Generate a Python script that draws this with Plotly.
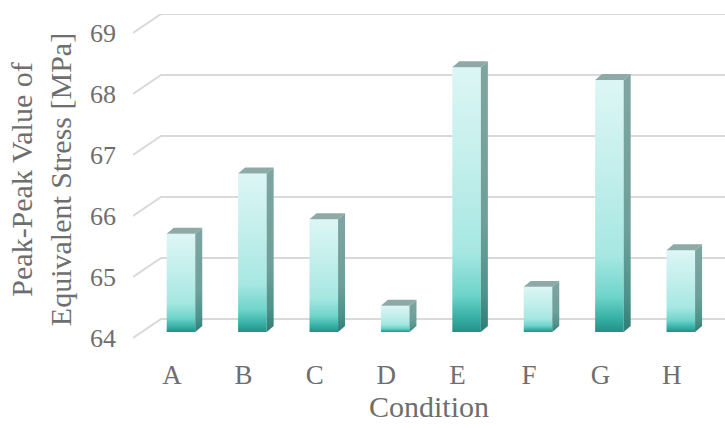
import plotly.graph_objects as go

# Data
categories = ["A", "B", "C", "D", "E", "F", "G", "H"]
stress_pp = [65.61, 66.60, 65.85, 64.43, 68.34, 64.74, 68.13, 65.34]
y_ticks = [64, 65, 66, 67, 68, 69]

# Projection constants (axis units) for the pseudo-3D look
X_MIN, X_MAX = -0.546, 7.745
Y_MIN, Y_MAX = 63.885, 69.311
BASE = y_ticks[0]
BAR_W = 0.40
SHIFT_X, SHIFT_Y = 0.126, 0.098     # bar front face relative to the front plane
DEPTH_X, DEPTH_Y = 0.098, 0.098     # bar depth
WALL_X, WALL_Y = 0.392, 0.311       # back wall offset

TEXT = "#6e6e6e"
GRID = "#d9d9d9"
FONT = "Liberation Serif"

front_scale = [
    [0.0, "#248f86"],
    [0.05, "#34aea3"],
    [0.14, "#6ed4ca"],
    [0.30, "#a6e7e2"],
    [0.65, "#c4efec"],
    [1.0, "#dcf6f5"],
]
side_scale = [
    [0.0, "#2d7d76"],
    [0.15, "#4f938c"],
    [0.4, "#6e9f9a"],
    [1.0, "#7fa5a2"],
]

fig = go.Figure()

# Back wall gridlines with the receding diagonal at the left
shapes = []
for t in y_ticks:
    pts = [(X_MIN, t), (X_MIN + WALL_X, t + WALL_Y), (X_MAX, t + WALL_Y)]
    path = "M {} {} L {} {} L {} {}".format(*[c for p in pts for c in p])
    shapes.append(dict(type="path", path=path, xref="x", yref="y",
                       line=dict(color=GRID, width=2), layer="below"))

for i, (cat, v) in enumerate(zip(categories, stress_pp)):
    x0 = i + SHIFT_X - BAR_W / 2
    x1 = i + SHIFT_X + BAR_W / 2
    b0 = BASE + SHIFT_Y
    t0 = v + SHIFT_Y
    # front face
    fig.add_trace(go.Scatter(
        x=[x0, x1, x1, x0, x0], y=[b0, b0, t0, t0, b0],
        mode="lines", line=dict(width=0), fill="toself",
        fillgradient=dict(type="vertical", colorscale=front_scale, start=b0, stop=t0),
        hoverinfo="skip", showlegend=False))
    # side face
    fig.add_trace(go.Scatter(
        x=[x1, x1 + DEPTH_X, x1 + DEPTH_X, x1, x1],
        y=[b0, b0 + DEPTH_Y, t0 + DEPTH_Y, t0, b0],
        mode="lines", line=dict(width=0), fill="toself",
        fillgradient=dict(type="vertical", colorscale=side_scale, start=b0, stop=t0 + DEPTH_Y),
        hoverinfo="skip", showlegend=False))
    # top face
    fig.add_trace(go.Scatter(
        x=[x0, x1, x1 + DEPTH_X, x0 + DEPTH_X, x0],
        y=[t0, t0, t0 + DEPTH_Y, t0 + DEPTH_Y, t0],
        mode="lines", line=dict(width=0), fill="toself", fillcolor="#8eaaa7",
        hoverinfo="skip", showlegend=False))

fig.update_layout(
    width=725, height=428,
    margin=dict(l=133, r=0, t=14, b=83),
    paper_bgcolor="white", plot_bgcolor="white",
    font=dict(family=FONT, color=TEXT, size=26),
    shapes=shapes,
    xaxis=dict(
        range=[X_MIN, X_MAX], tickmode="array",
        tickvals=list(range(len(categories))), ticktext=categories,
        showgrid=False, zeroline=False, showline=False, ticks="",
        tickfont=dict(size=27, color=TEXT), ticklabelstandoff=11,
        title=dict(text="Condition", font=dict(size=30, color=TEXT), standoff=4),
    ),
    yaxis=dict(
        range=[Y_MIN, Y_MAX], tickmode="array", tickvals=y_ticks,
        showgrid=False, zeroline=False, showline=False, ticks="",
        tickfont=dict(size=26, color=TEXT), ticklabelstandoff=16,
        title=dict(text="Peak-Peak Value of<br>Equivalent Stress [MPa]",
                   font=dict(size=30, color=TEXT), standoff=9),
    ),
)

fig.write_html("out.html")
